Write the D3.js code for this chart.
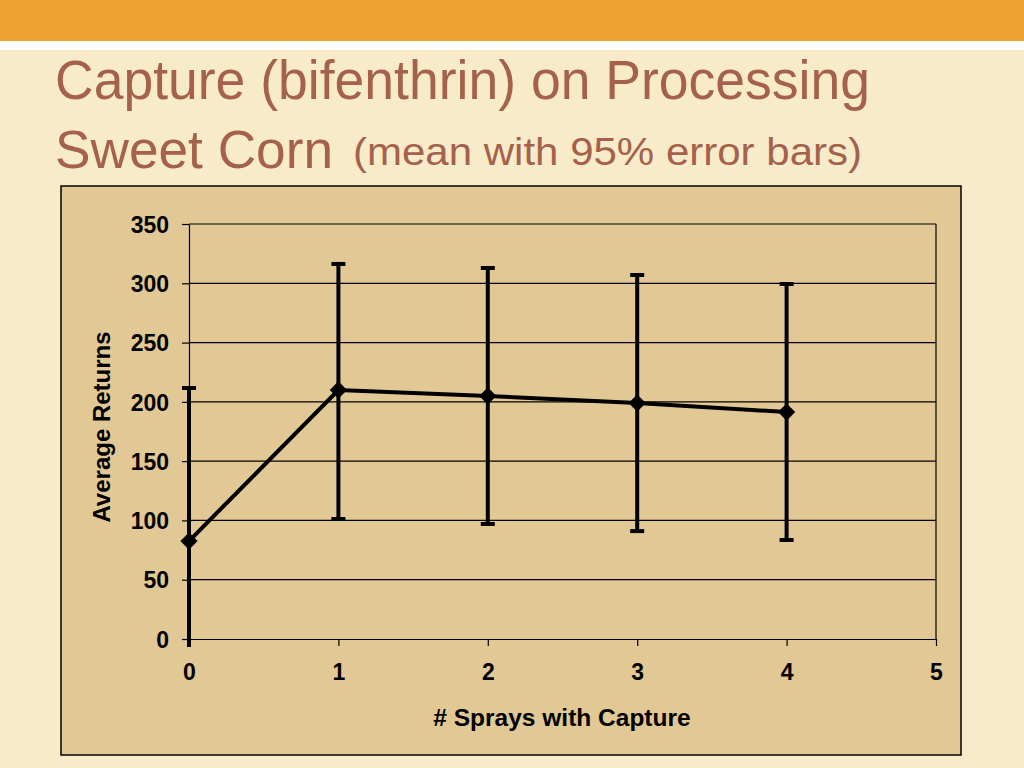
<!DOCTYPE html>
<html>
<head>
<meta charset="utf-8">
<script src="https://cdn.jsdelivr.net/npm/d3@7"></script>
<style>
  body { margin: 0; background: #f8ebc9; }
  svg { display: block; }
</style>
</head>
<body>
<script>
const W = 1024
const H = 768

// data
const sprays = [0, 1, 2, 3, 4]
const meanReturns = [82.6, 210, 205, 199, 191.4]
const upper95 = [211.7, 316.3, 312.9, 307, 299.4]
const lower95 = [-46, 101.2, 97, 91, 83.5]
const xTicks = [0, 1, 2, 3, 4, 5]
const yTicks = [0, 50, 100, 150, 200, 250, 300, 350]

const plotLeft = 189, plotRight = 936, plotTop = 224, plotBottom = 639

const svg = d3.select('body').append('svg')
    .attr('width', W)
    .attr('height', H)

svg.append('rect').attr('width', W).attr('height', H).attr('fill', '#f8ebc9')
svg.append('rect').attr('width', W).attr('height', 41).attr('fill', '#eca22e')
svg.append('rect').attr('y', 41).attr('width', W).attr('height', 9).attr('fill', '#ffffff')

// title
const titleColor = '#a5614b'
svg.append('text')
    .attr('x', 55).attr('y', 99)
    .attr('font-family', 'Liberation Sans, Arial, sans-serif')
    .attr('font-size', 55)
    .attr('fill', titleColor)
    .attr('textLength', 815)
    .attr('lengthAdjust', 'spacingAndGlyphs')
    .text('Capture (bifenthrin) on Processing')
svg.append('text')
    .attr('x', 55).attr('y', 168)
    .attr('font-family', 'Liberation Sans, Arial, sans-serif')
    .attr('font-size', 54)
    .attr('fill', titleColor)
    .attr('textLength', 278)
    .attr('lengthAdjust', 'spacingAndGlyphs')
    .text('Sweet Corn')
svg.append('text')
    .attr('x', 353).attr('y', 165)
    .attr('font-family', 'Liberation Sans, Arial, sans-serif')
    .attr('font-size', 38)
    .attr('fill', titleColor)
    .attr('textLength', 509)
    .attr('lengthAdjust', 'spacingAndGlyphs')
    .text('(mean with 95% error bars)')

// chart box
svg.append('rect')
    .attr('x', 61).attr('y', 186)
    .attr('width', 900).attr('height', 569)
    .attr('fill', '#e1c894')
    .attr('stroke', '#000')
    .attr('stroke-width', 1.5)

const xScale = d3.scaleLinear().domain([0, 5]).range([plotLeft, plotRight])
const yScale = d3.scaleLinear().domain([0, 350]).range([plotBottom, plotTop])

// gridlines
svg.append('g').selectAll('line')
    .data(yTicks.filter(d => d > 0))
    .enter().append('line')
    .attr('x1', plotLeft).attr('x2', plotRight)
    .attr('y1', d => yScale(d)).attr('y2', d => yScale(d))
    .attr('stroke', '#000').attr('stroke-width', 1.2)

svg.append('line')
    .attr('x1', plotRight).attr('x2', plotRight)
    .attr('y1', plotTop).attr('y2', plotBottom)
    .attr('stroke', '#000').attr('stroke-width', 1.2)

const yAxis = svg.append('g')
    .attr('transform', `translate(${plotLeft},0)`)
    .call(d3.axisLeft(yScale).tickValues(yTicks).tickSizeInner(7).tickSizeOuter(0).tickPadding(13))
const xAxis = svg.append('g')
    .attr('transform', `translate(0,${plotBottom})`)
    .call(d3.axisBottom(xScale).tickValues(xTicks).tickSizeInner(7).tickSizeOuter(0).tickPadding(20).tickFormat(d3.format('d')))

svg.selectAll('.domain, .tick line').attr('stroke', '#000').attr('stroke-width', 1.2)
svg.selectAll('.tick text')
    .attr('font-family', 'Liberation Sans, Arial, sans-serif')
    .attr('font-weight', 'bold')
    .attr('font-size', 23)
    .attr('fill', '#000')
yAxis.selectAll('.tick text').attr('dy', '0.36em')
xAxis.selectAll('.tick text').attr('dy', '0.6em')

// axis titles
svg.append('text')
    .attr('transform', 'translate(110,427) rotate(-90)')
    .attr('text-anchor', 'middle')
    .attr('font-family', 'Liberation Sans, Arial, sans-serif')
    .attr('font-weight', 'bold')
    .attr('font-size', 24)
    .text('Average Returns')
svg.append('text')
    .attr('x', 562).attr('y', 726)
    .attr('text-anchor', 'middle')
    .attr('font-family', 'Liberation Sans, Arial, sans-serif')
    .attr('font-weight', 'bold')
    .attr('font-size', 24.5)
    .text('# Sprays with Capture')

// error bars (clipped just below the axis like the original)
svg.append('clipPath').attr('id', 'errclip')
    .append('rect')
    .attr('x', plotLeft - 20).attr('y', plotTop - 20)
    .attr('width', plotRight - plotLeft + 40).attr('height', plotBottom - plotTop + 28)

const errs = sprays.map((s, i) => ({ x: s, hi: upper95[i], lo: lower95[i] }))
const eb = svg.append('g').attr('clip-path', 'url(#errclip)')
eb.selectAll('line.bar')
    .data(errs).enter().append('line')
    .attr('class', 'bar')
    .attr('x1', d => xScale(d.x)).attr('x2', d => xScale(d.x))
    .attr('y1', d => yScale(d.hi)).attr('y2', d => yScale(d.lo))
    .attr('stroke', '#000').attr('stroke-width', 4)
eb.selectAll('line.capHi')
    .data(errs).enter().append('line')
    .attr('class', 'capHi')
    .attr('x1', d => xScale(d.x) - 7).attr('x2', d => xScale(d.x) + 7)
    .attr('y1', d => yScale(d.hi)).attr('y2', d => yScale(d.hi))
    .attr('stroke', '#000').attr('stroke-width', 4)
eb.selectAll('line.capLo')
    .data(errs.filter(d => d.lo >= 0)).enter().append('line')
    .attr('class', 'capLo')
    .attr('x1', d => xScale(d.x) - 7).attr('x2', d => xScale(d.x) + 7)
    .attr('y1', d => yScale(d.lo)).attr('y2', d => yScale(d.lo))
    .attr('stroke', '#000').attr('stroke-width', 4)

// mean line
const pts = sprays.map((s, i) => ({ x: s, y: meanReturns[i] }))
const lineFun = d3.line()
    .x(d => xScale(d.x))
    .y(d => yScale(d.y))
svg.append('path')
    .attr('d', lineFun(pts))
    .attr('fill', 'none')
    .attr('stroke', '#000')
    .attr('stroke-width', 4)

svg.selectAll('path.marker')
    .data(pts).enter().append('path')
    .attr('class', 'marker')
    .attr('d', d3.symbol().type(d3.symbolDiamond2).size(190))
    .attr('transform', d => `translate(${xScale(d.x)},${yScale(d.y)})`)
    .attr('fill', '#000')
</script>
</body>
</html>
